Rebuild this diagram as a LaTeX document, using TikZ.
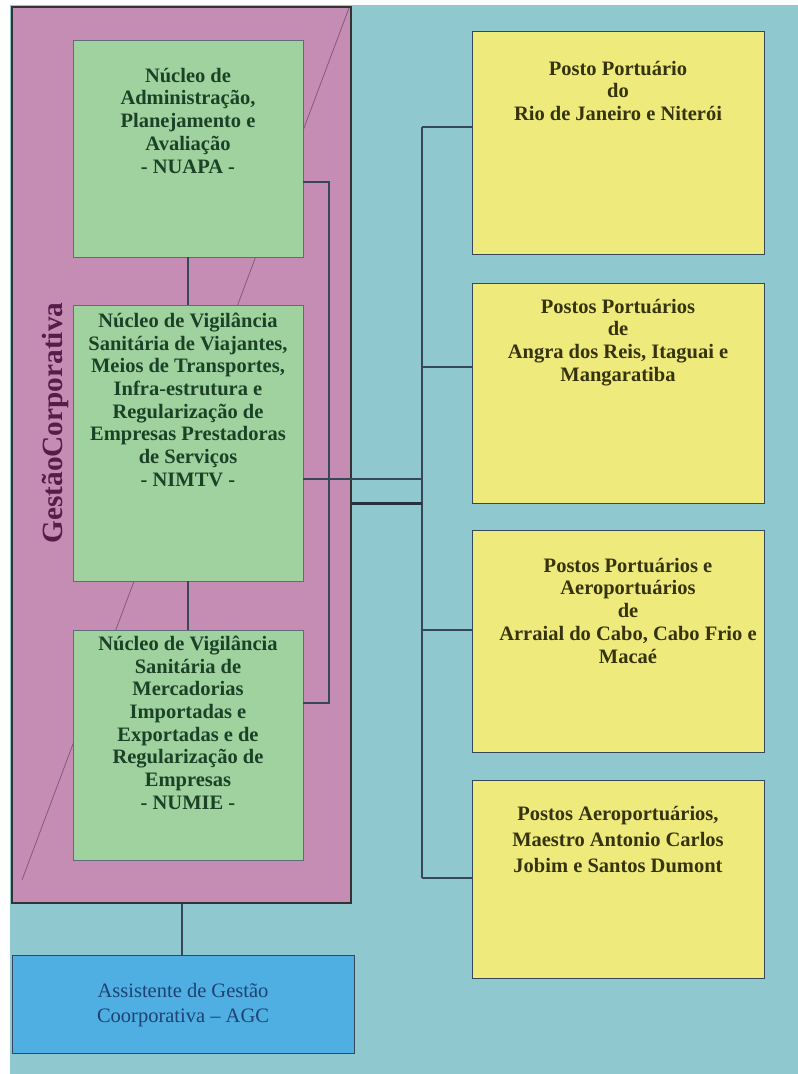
\documentclass[tikz,border=0pt]{standalone}
\usepackage{fontspec}
\setmainfont{Liberation Serif}
\usetikzlibrary{positioning}

\definecolor{fundo}{HTML}{8FC9CF}
\definecolor{gestao}{HTML}{C58DB4}
\definecolor{nucleo}{HTML}{9FD29F}
\definecolor{posto}{HTML}{EEEA7C}
\definecolor{assist}{HTML}{4FAEE2}
\definecolor{linha}{HTML}{36475A}
\definecolor{textonucleo}{HTML}{1B4226}
\definecolor{textoposto}{HTML}{36330F}
\definecolor{textoassist}{HTML}{1F4272}
\definecolor{textogestao}{HTML}{561C4A}

\begin{document}
\begin{tikzpicture}[x=1pt,y=-1pt,
    nucleobox/.style={draw=linha!80, fill=nucleo, minimum width=230pt, minimum height=#1, inner sep=0pt},
    postobox/.style={draw=linha, fill=posto, minimum width=292pt, minimum height=#1, inner sep=0pt},
    nucleotext/.style={align=center, inner sep=0pt, text=textonucleo, font=\fontsize{20.5}{22.7}\selectfont\bfseries},
    postotext/.style={align=center, inner sep=0pt, text=textoposto, font=\fontsize{20.5}{22.7}\selectfont\bfseries},
    conn/.style={draw=linha, line width=1.1pt},
    thickconn/.style={draw=linha!70!black, line width=3pt}
  ]
  % fundo
  \fill[white] (0,0) rectangle (798,1074);
  \fill[fundo] (10,5) rectangle (798,1074);

  % gestao corporativa
  \node[draw=black!80, line width=2.5pt, fill=gestao, minimum width=339pt, minimum height=896pt, inner sep=0pt] (gestao) at (181.5,455) {};
  \draw[gestao!65!black, line width=0.8pt] (349,8) -- (22,880);
  \node[rotate=90, anchor=base, inner sep=0pt, text=textogestao, font=\fontsize{29.3}{29.3}\selectfont\bfseries] (gestaolabel) at (62,423) {GestãoCorporativa};

  % nucleos
  \node[nucleobox=217pt] (nuapa) at (188,148.5) {};
  \node[nucleobox=276pt] (nimtv) at (188,443) {};
  \node[nucleobox=230pt] (numie) at (188,745) {};

  \draw[conn] (nuapa) -- (nimtv);
  \draw[conn] (nimtv) -- (numie);

  \node[nucleotext, below=28pt of nuapa.north] (nuapatext) {Núcleo de\\Administração,\\Planejamento e\\Avaliação\\- NUAPA -};
  \node[nucleotext, below=8pt of nimtv.north] (nimtvtext) {Núcleo de Vigilância\\Sanitária de Viajantes,\\Meios de Transportes,\\Infra-estrutura e\\Regularização de\\Empresas Prestadoras\\de Serviços\\- NIMTV -};
  \node[nucleotext, below=6pt of numie.north] (numietext) {Núcleo de Vigilância\\Sanitária de\\Mercadorias\\Importadas e\\Exportadas e de\\Regularização de\\Empresas\\- NUMIE -};

  % postos
  \node[postobox=223pt] (p1) at (618,142.5) {};
  \node[postobox=220pt] (p2) at (618,393) {};
  \node[postobox=222pt] (p3) at (618,641) {};
  \node[postobox=198pt] (p4) at (618,879) {};

  \node[postotext, below=30pt of p1.north] (p1text) {Posto Portuário\\do\\Rio de Janeiro e Niterói};
  \node[postotext, below=16pt of p2.north] (p2text) {Postos Portuários\\de\\Angra dos Reis, Itaguai e\\Mangaratiba};
  \node[postotext, below=28pt of p3.north, xshift=10pt] (p3text) {Postos Portuários e\\Aeroportuários\\de\\Arraial do Cabo, Cabo Frio e\\Macaé};
  \node[postotext, below=26pt of p4.north, font=\fontsize{20.5}{26}\selectfont\bfseries] (p4text) {Postos Aeroportuários,\\Maestro Antonio Carlos\\Jobim e Santos Dumont};

  % ligacoes
  \coordinate (spine) at (422,503);
  \coordinate (bracket) at (329,0);
  \coordinate (n1) at ([yshift=-33.5pt]nuapa.east);
  \coordinate (n2) at ([yshift=-36pt]nimtv.east);
  \coordinate (n3) at ([yshift=42pt]numie.east);
  \coordinate (b1) at ([yshift=15.5pt]p1.west);
  \coordinate (b2) at ([yshift=26pt]p2.west);
  \coordinate (b3) at ([yshift=11pt]p3.west);
  \coordinate (b4) at ([yshift=1pt]p4.west);

  \draw[conn] (n1) -- (bracket |- n1) -- (bracket |- n3) -- (n3);
  \draw[conn] (n2) -- (spine |- n2);
  \draw[conn] (spine |- b1) -- (spine |- b4);
  \foreach \b in {b1,b2,b3,b4}
    \draw[conn] (spine |- \b) -- (\b);
  \draw[thickconn] (gestao.east |- spine) -- (spine);

  % assistente
  \node[draw=linha, fill=assist, minimum width=342pt, minimum height=98pt, inner sep=0pt] (agc) at (183,1004) {};
  \draw[conn] (gestao.south -| 182,0) -- (agc.north -| 182,0);
  \node[align=center, inner sep=0pt, text=textoassist, font=\fontsize{20.5}{25}\selectfont, below=28pt of agc.north] (agctext) {Assistente de Gestão\\Coorporativa – AGC};
\end{tikzpicture}
\end{document}
